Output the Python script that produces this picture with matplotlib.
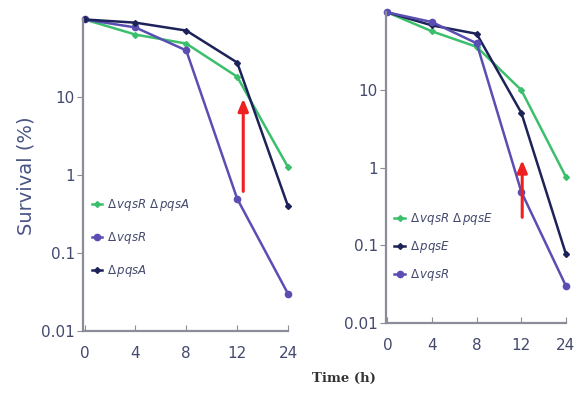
import matplotlib.pyplot as plt
from matplotlib.lines import Line2D

# ---------------------------- 数据 ---------------------------- #
time_labels = ['0', '4', '8', '12', '24']

# left panel
left_vqsR_pqsA = [100, 64, 49, 18.4, 1.27]
left_vqsR = [100, 79, 40, 0.50, 0.030]
left_pqsA = [100, 91, 72, 28, 0.40]

# right panel
right_vqsR_pqsE = [100, 57, 36, 10, 0.76]
right_pqsE = [100, 68, 53, 5.1, 0.077]
right_vqsR = [100, 75, 40, 0.49, 0.030]

GREEN = '#3cbf6c'
PURPLE = '#5a4eb3'
NAVY = '#1d2358'
TXT = '#44496e'
SPINE = '#8a8d99'

plt.rcParams['mathtext.fontset'] = 'dejavusans'


def style_axis(ax):
    ax.set_yscale('log')
    ax.set_ylim(0.01, 100)
    ax.set_xlim(-0.03, 4)
    ax.set_yticks([0.01, 0.1, 1, 10])
    ax.set_yticklabels(['0.01', '0.1', '1', '10'])
    ax.minorticks_off()
    ax.set_xticks(range(len(time_labels)))
    ax.set_xticklabels(time_labels)
    for s in ['top', 'right']:
        ax.spines[s].set_visible(False)
    for s in ['left', 'bottom']:
        ax.spines[s].set_color(SPINE)
        ax.spines[s].set_linewidth(1.6)
    ax.tick_params(axis='y', direction='out', length=4, color=SPINE,
                   labelsize=11, labelcolor=TXT, pad=2)
    ax.tick_params(axis='x', direction='in', length=4, color=SPINE,
                   labelsize=11, labelcolor=TXT, pad=11)


def draw(ax, series, arrow):
    x = range(len(time_labels))
    handles = []
    for vals, color, marker, ms, label in series:
        ax.plot(x, vals, color=color, lw=1.8, marker=marker, ms=ms, clip_on=False)
        handles.append(Line2D([], [], color=color, lw=1.8, marker=marker, ms=ms, label=label))
    (x0, y0), (x1, y1) = arrow
    ax.annotate('', xy=(x1, y1), xytext=(x0, y0),
                arrowprops=dict(arrowstyle='-|>,head_length=0.6,head_width=0.25',
                                color='#ee2020', lw=2.2,
                                mutation_scale=12, shrinkA=0, shrinkB=0))
    return handles


fig = plt.figure(figsize=(5.78, 3.94), dpi=100)
ax1 = fig.add_axes([0.1436, 0.160, 0.3547, 0.7906])
ax2 = fig.add_axes([0.6678, 0.180, 0.3114, 0.7886])

for ax in (ax1, ax2):
    style_axis(ax)

h1 = draw(ax1, [
    (left_vqsR_pqsA, GREEN, 'D', 3, r'$\Delta\,vqsR\ \Delta\,pqsA$'),
    (left_vqsR, PURPLE, 'o', 4.5, r'$\Delta\,vqsR$'),
    (left_pqsA, NAVY, 'D', 3, r'$\Delta\,pqsA$'),
], ((3.12, 0.62), (3.12, 9.6)))

h2 = draw(ax2, [
    (right_vqsR_pqsE, GREEN, 'D', 3, r'$\Delta\,vqsR\ \Delta\,pqsE$'),
    (right_pqsE, NAVY, 'D', 3, r'$\Delta\,pqsE$'),
    (right_vqsR, PURPLE, 'o', 4.5, r'$\Delta\,vqsR$'),
], ((3.02, 0.23), (3.02, 1.25)))

ax1.legend(handles=h1, loc='upper left', bbox_to_anchor=(0.02, 0.445),
           frameon=False, handlelength=0.9, handletextpad=0.4,
           labelspacing=1.45, fontsize=8.5, labelcolor=TXT, borderaxespad=0)
ax2.legend(handles=h2, loc='upper left', bbox_to_anchor=(0.02, 0.375),
           frameon=False, handlelength=0.9, handletextpad=0.4,
           labelspacing=1.0, fontsize=8.5, labelcolor=TXT, borderaxespad=0)

ax1.set_ylabel('Survival (%)', fontsize=14, color='#4a5585', labelpad=4)
fig.text(0.595, 0.04, 'Time (h)', fontsize=9.5, fontweight='bold',
         family='DejaVu Serif', color='#333333', ha='center', va='center')

plt.savefig('out.png', dpi=100)
plt.close()
